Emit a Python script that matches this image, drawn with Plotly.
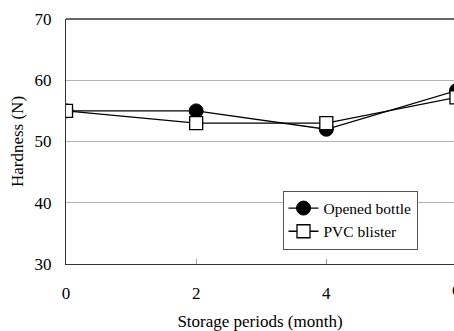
import plotly.graph_objects as go

months = [0, 2, 4, 6]
opened_bottle = [55, 55, 52, 58.3]
pvc_blister = [55, 53, 53, 57.2]
y_ticks = [30, 40, 50, 60, 70]
x_ticks = [0, 2, 4]

FONT = "Liberation Serif"

fig = go.Figure()
fig.add_trace(go.Scatter(
    x=months, y=opened_bottle, name="Opened bottle", mode="lines+markers",
    line=dict(color="black", width=1.3),
    marker=dict(symbol="circle", size=14, color="black", line=dict(color="black", width=1)),
))
fig.add_trace(go.Scatter(
    x=months, y=pvc_blister, name="PVC blister  ", mode="lines+markers",
    line=dict(color="black", width=1.3),
    marker=dict(symbol="square", size=13, color="white", line=dict(color="black", width=1.3)),
))

fig.update_layout(
    width=454, height=331,
    margin=dict(l=66, r=0, t=19, b=67),
    paper_bgcolor="white", plot_bgcolor="white",
    font=dict(family=FONT, size=17, color="black"),
    showlegend=True,
    legend=dict(
        x=0.558, y=0.300, xanchor="left", yanchor="top",
        bgcolor="white", bordercolor="#555555", borderwidth=1,
        font=dict(family=FONT, size=15.5, color="black"),
        itemwidth=30, tracegroupgap=0,
    ),
    xaxis=dict(
        range=[0, 5.962], tickvals=x_ticks, ticktext=[str(v) for v in x_ticks],
        showgrid=False, zeroline=False,
        showline=True, linecolor="#333333", linewidth=1.3,
        ticks="inside", ticklen=5, tickcolor="#999999", tickwidth=1,
        ticklabelstandoff=13,
        title=dict(text="Storage periods (month)", font=dict(family=FONT, size=17), standoff=16),
    ),
    yaxis=dict(
        range=[30, 70], tickvals=y_ticks,
        showgrid=True, gridcolor="#b4b4b4", gridwidth=1,
        zeroline=False,
        showline=True, linecolor="#333333", linewidth=1.3,
        ticks="", ticklabelstandoff=10,
        title=dict(text="Hardness (N)", font=dict(family=FONT, size=17), standoff=6),
    ),
    shapes=[dict(type="line", xref="paper", yref="paper", x0=0, x1=1, y0=1, y1=1,
                 line=dict(color="#333333", width=1.3))],
    annotations=[dict(text="6", xref="paper", yref="paper", x=(456.5 - 66) / 388, y=-0.11,
                      xanchor="center", yanchor="middle", showarrow=False,
                      font=dict(family=FONT, size=17, color="black"))],
)

fig.write_html("out.html")
